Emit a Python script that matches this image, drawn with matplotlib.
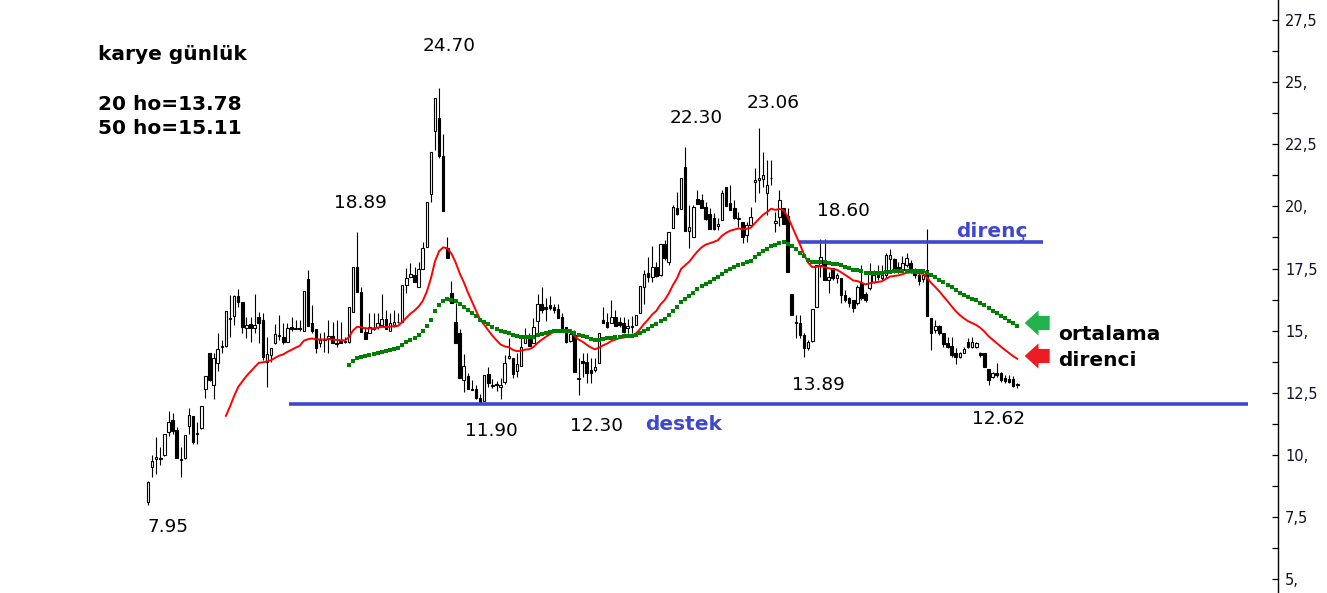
import numpy as np
import matplotlib
matplotlib.use("Agg")
import matplotlib.pyplot as plt
from matplotlib.patches import FancyArrowPatch

# ---------------- data ----------------
opens = [8.10, 9.50, 9.82, 9.85, 9.98, 10.91, 11.39, 10.99, 9.82, 9.88,
         11.15, 11.55, 10.84, 11.07, 12.64, 14.09, 12.80, 13.68, 14.35, 14.37,
         15.48, 15.58, 16.39, 16.14, 15.09, 15.25, 15.09, 15.56, 15.43, 13.75,
         14.02, 14.49, 14.78, 14.75, 14.55, 15.16, 15.08, 15.10, 15.00, 17.07,
         15.29, 15.05, 14.49, 14.61, 14.69, 14.79, 14.48, 14.62, 14.54, 14.55,
         15.76, 17.55, 16.55, 14.94, 14.89, 15.08, 15.15, 15.23, 15.48, 14.98,
         15.23, 15.33, 15.36, 16.84, 17.17, 17.24, 16.77, 17.47, 18.38, 20.49,
         23.05, 23.55, 22.03, 18.34, 16.50, 15.36, 14.89, 13.01, 13.17, 12.63,
         12.64, 12.27, 12.18, 13.25, 12.76, 12.85, 12.74, 12.92, 13.91, 13.88,
         13.39, 13.57, 14.49, 14.69, 14.49, 15.40, 16.07, 15.96, 16.03, 15.94,
         15.86, 15.54, 15.13, 14.59, 14.82, 13.04, 13.78, 13.75, 13.41, 13.41,
         13.68, 15.43, 15.36, 15.29, 15.54, 15.36, 15.32, 15.09, 15.15, 15.23,
         15.70, 16.77, 17.31, 17.17, 17.57, 17.24, 18.49, 17.77, 19.12, 19.92,
         19.88, 21.57, 19.02, 18.76, 20.29, 20.26, 19.99, 19.69, 19.52, 19.21,
         19.45, 20.79, 20.13, 19.92, 19.51, 19.38, 18.85, 19.25, 20.97, 21.06,
         21.10, 20.55, 21.13, 19.35, 19.57, 19.92, 19.61, 16.47, 15.31, 15.32,
         14.82, 14.29, 14.59, 15.94, 17.64, 17.84, 17.04, 17.51, 17.10, 17.10,
         16.43, 16.30, 16.23, 16.10, 16.90, 16.47, 16.70, 16.97, 17.31, 17.13,
         17.24, 17.87, 17.87, 17.57, 17.44, 17.64, 17.71, 17.44, 17.24, 17.06,
         17.44, 15.50, 15.02, 15.19, 14.89, 14.49, 14.38, 14.09, 13.93, 14.11,
         14.55, 14.35, 14.35, 14.09, 14.09, 13.44, 13.15, 13.28, 13.31, 13.08,
         13.04, 13.04, 12.83]
highs = [8.95, 9.99, 10.70, 10.33, 10.85, 11.76, 11.69, 11.13, 10.30, 10.80,
         11.88, 11.56, 11.33, 11.97, 13.17, 14.10, 14.09, 14.92, 14.62, 15.80,
         16.43, 16.43, 16.66, 16.16, 15.56, 15.56, 16.47, 15.76, 15.72, 14.75,
         14.30, 15.27, 15.63, 15.29, 15.29, 15.56, 15.43, 15.43, 16.58, 17.44,
         16.02, 15.05, 14.89, 14.93, 15.43, 15.33, 15.43, 15.33, 14.75, 15.96,
         17.57, 18.96, 16.77, 15.16, 15.70, 15.70, 15.70, 16.46, 15.83, 15.70,
         15.83, 15.70, 16.82, 17.53, 17.71, 17.57, 17.77, 18.55, 20.17, 22.19,
         24.35, 24.75, 22.92, 18.78, 17.00, 16.10, 15.05, 14.06, 13.31, 13.00,
         12.81, 12.45, 13.21, 13.52, 13.07, 12.99, 13.08, 14.02, 14.69, 13.88,
         14.09, 14.75, 15.09, 14.89, 15.50, 16.47, 16.74, 16.30, 16.39, 16.07,
         16.07, 15.70, 15.13, 15.02, 15.02, 13.88, 14.09, 14.09, 13.88, 13.88,
         14.92, 15.96, 15.70, 16.23, 15.83, 15.56, 15.56, 15.45, 15.59, 15.63,
         16.80, 17.44, 17.98, 18.41, 17.77, 18.49, 18.65, 18.98, 20.06, 20.59,
         21.13, 22.38, 20.06, 20.06, 20.66, 20.50, 20.19, 19.92, 19.72, 19.52,
         20.66, 20.79, 20.86, 20.26, 19.79, 19.38, 19.38, 19.96, 21.53, 23.14,
         22.20, 21.87, 21.87, 19.79, 20.66, 19.92, 19.94, 16.47, 15.63, 15.63,
         14.89, 14.62, 15.86, 17.64, 18.67, 18.67, 17.37, 17.51, 17.31, 17.10,
         16.63, 16.36, 16.23, 16.84, 17.64, 16.57, 17.71, 17.46, 17.64, 17.64,
         18.11, 18.27, 17.91, 17.77, 18.00, 18.11, 17.84, 17.51, 17.37, 17.44,
         19.08, 15.50, 15.43, 15.23, 14.89, 14.75, 14.75, 14.29, 14.15, 14.35,
         14.69, 14.75, 14.55, 14.15, 14.09, 13.44, 13.35, 13.68, 13.35, 13.21,
         13.21, 13.17, 12.91]
lows = [8.00, 9.12, 9.23, 9.59, 9.95, 10.77, 10.84, 9.88, 9.12, 9.85,
        10.84, 10.42, 10.42, 11.05, 12.27, 12.98, 12.23, 13.39, 14.09, 14.35,
        14.75, 15.23, 15.96, 14.89, 14.69, 14.55, 14.89, 14.49, 13.82, 12.74,
        13.75, 14.46, 14.62, 14.45, 14.53, 15.00, 15.06, 15.00, 15.00, 15.20,
        14.89, 14.11, 14.35, 14.15, 14.11, 14.49, 14.35, 14.49, 14.49, 14.49,
        15.76, 16.57, 14.94, 14.67, 14.89, 15.02, 15.05, 15.23, 15.05, 14.98,
        15.16, 15.30, 15.36, 16.50, 17.17, 16.97, 16.77, 17.47, 18.38, 20.19,
        22.27, 21.94, 19.83, 17.91, 16.10, 14.51, 13.08, 12.54, 12.64, 12.61,
        12.23, 12.07, 12.18, 12.74, 12.68, 12.58, 12.23, 12.85, 13.84, 13.10,
        13.12, 13.57, 14.49, 14.39, 14.49, 14.89, 15.70, 15.40, 15.83, 15.70,
        15.50, 15.09, 14.49, 14.55, 13.35, 12.41, 13.12, 12.88, 12.88, 13.35,
        13.68, 15.32, 15.09, 15.29, 15.19, 15.16, 14.89, 14.89, 14.89, 15.23,
        15.70, 16.07, 16.97, 16.97, 17.15, 17.20, 17.84, 17.64, 19.12, 19.65,
        19.88, 19.02, 18.31, 18.76, 20.08, 19.92, 19.45, 19.08, 19.05, 19.05,
        19.45, 20.02, 19.86, 19.48, 19.18, 18.51, 18.58, 19.25, 20.19, 20.55,
        20.79, 19.65, 20.86, 18.98, 19.21, 19.29, 17.36, 15.63, 14.70, 14.70,
        13.95, 14.22, 14.55, 15.94, 17.17, 17.04, 16.50, 17.04, 16.90, 16.10,
        16.16, 15.96, 15.76, 16.03, 16.23, 16.16, 16.65, 16.90, 17.04, 17.04,
        17.10, 17.44, 17.31, 17.31, 17.37, 17.57, 17.31, 17.10, 16.84, 16.97,
        15.60, 14.22, 14.89, 14.82, 14.35, 14.29, 13.95, 13.66, 13.88, 14.09,
        14.29, 14.29, 14.29, 13.95, 13.55, 12.81, 13.08, 13.15, 12.94, 12.88,
        12.88, 12.74, 12.70]
closes = [8.90, 9.76, 9.90, 9.87, 10.83, 11.33, 10.97, 9.88, 9.80, 10.79,
          11.59, 10.53, 10.86, 11.95, 13.16, 13.00, 13.90, 14.27, 14.38, 15.78,
          15.52, 16.39, 16.14, 15.13, 15.21, 15.09, 15.21, 15.32, 13.95, 14.06,
          14.29, 14.85, 14.80, 14.55, 15.09, 15.05, 15.10, 15.08, 16.58, 15.20,
          15.00, 14.29, 14.61, 14.63, 14.79, 14.49, 14.50, 14.49, 14.56, 15.96,
          17.57, 16.57, 14.94, 14.67, 15.13, 15.10, 15.32, 15.48, 15.05, 15.32,
          15.36, 15.35, 16.82, 17.13, 17.27, 16.97, 17.48, 18.34, 20.17, 22.19,
          24.35, 22.03, 19.83, 17.91, 16.10, 14.51, 13.08, 13.57, 12.64, 12.65,
          12.27, 12.10, 13.21, 12.88, 12.78, 12.83, 12.81, 13.68, 13.98, 13.25,
          13.66, 14.35, 14.69, 14.39, 15.16, 16.07, 15.83, 15.86, 15.90, 15.83,
          15.50, 15.09, 14.55, 14.86, 13.35, 13.11, 13.71, 13.28, 13.30, 13.55,
          14.92, 15.32, 15.16, 15.56, 15.19, 15.23, 14.96, 15.18, 15.17, 15.63,
          16.80, 17.27, 17.15, 17.55, 17.20, 18.49, 17.91, 18.96, 19.99, 19.69,
          21.13, 19.02, 19.18, 19.99, 20.08, 19.92, 19.49, 19.08, 19.08, 19.29,
          20.54, 20.02, 19.86, 19.52, 19.53, 18.78, 19.25, 19.56, 21.06, 21.13,
          21.26, 20.86, 21.15, 19.40, 20.26, 19.29, 17.36, 15.63, 15.33, 14.82,
          14.29, 14.55, 15.86, 17.64, 17.97, 17.04, 17.17, 17.10, 17.24, 16.43,
          16.23, 16.10, 15.90, 16.77, 16.30, 16.23, 17.30, 17.24, 17.17, 17.24,
          18.04, 18.04, 17.44, 17.44, 17.71, 17.91, 17.44, 17.24, 17.01, 17.24,
          15.60, 14.92, 15.19, 14.92, 14.46, 14.35, 14.02, 13.93, 14.11, 14.25,
          14.33, 14.55, 14.49, 14.02, 13.55, 13.01, 13.28, 13.21, 13.01, 12.98,
          12.94, 12.77, 12.85]

support_level = 12.05
resistance_level = 18.55
ytick_values = [5, 7.5, 10, 12.5, 15, 17.5, 20, 22.5, 25, 27.5]
ytick_labels = ["5,", "7,5", "10,", "12,5", "15,", "17,5", "20,", "22,5", "25,", "27,5"]
price_notes = ["7.95", "18.89", "24.70", "22.30", "23.06", "18.60",
               "13.89", "11.90", "12.30", "12.62"]
title_lines = ["karye günlük", "20 ho=13.78", "50 ho=15.11"]


def ema(vals, n):
    """Exponential moving average seeded with the simple average of the first n closes."""
    out = np.full(len(vals), np.nan)
    out[n - 1] = np.mean(vals[:n])
    a = 2.0 / (n + 1)
    for i in range(n, len(vals)):
        out[i] = out[i - 1] + a * (vals[i] - out[i - 1])
    return out


# ---------------- figure ----------------
W, H = 1327, 593
fig = plt.figure(figsize=(W / 100, H / 100), dpi=100)
ax = fig.add_axes([0, 0, 1278 / W, 1])

o = np.array(opens); h = np.array(highs); l = np.array(lows); c = np.array(closes)
idx = np.arange(len(c))
up = c >= o
lo = np.minimum(o, c)
bh = np.maximum(np.abs(c - o), 0.035)

ax.vlines(idx, l, h, color="black", lw=0.8, zorder=2)
ax.bar(idx[up], bh[up], bottom=lo[up], width=0.62, facecolor="white",
       edgecolor="black", linewidth=0.8, zorder=3)
ax.bar(idx[~up], bh[~up], bottom=lo[~up], width=0.62, facecolor="black",
       edgecolor="black", linewidth=0.8, zorder=3)

# moving averages (exponential, 20 and 50)
ema20 = ema(c, 20)
ema50 = ema(c, 50)
ax.plot(idx, ema20, color="#ff0000", lw=1.4, zorder=5)
ax.plot(idx, ema50, ls="none", marker="s", ms=2.3, mew=0,
        color="#008000", zorder=5)

# support / resistance
blue = "#3f48cc"
ax.hlines(support_level, 34.4, 268.3, color=blue, lw=2.6, zorder=4)
ax.hlines(resistance_level, 158.8, 218.3, color=blue, lw=2.6, zorder=4)

# axis styling
for sp in ["left", "top", "bottom"]:
    ax.spines[sp].set_visible(False)
ax.spines["right"].set_linewidth(1.0)
ax.set_xticks([])
ax.yaxis.tick_right()
ax.set_yticks(ytick_values)
ax.set_yticklabels(ytick_labels)
ax.set_yticks([v + 1.25 for v in ytick_values[:-1]] + [3.75, 28.75], minor=True)
ax.tick_params(axis="y", which="both", direction="in", length=4, width=0.9,
               labelsize=10.5, pad=5, colors="black")
ax.tick_params(axis="y", which="major", labelcolor="#10102a")

# limits set last so tick setting cannot widen them
ax.set_xlim(-36.1, 275.6)
ax.set_ylim(4.44, 28.31)


def fp(x, y):
    return x / W, 1 - y / H


note_pos = [(168, 527), (360, 203), (449, 46), (696, 118), (773, 103),
            (843, 211), (818, 385), (491, 431), (597, 426), (999, 419)]
for txt, (px, py) in zip(price_notes, note_pos):
    fig.text(*fp(px, py), txt, fontsize=13.3, ha="center", va="center",
             color="black")

for txt, py in zip(title_lines, [55, 104, 129]):
    fig.text(*fp(98, py), txt, fontsize=14.5, fontweight="bold",
             ha="left", va="center", color="black")

fig.text(*fp(992, 231), "direnç", fontsize=14.5, fontweight="bold",
         ha="center", va="center", color=blue)
fig.text(*fp(684, 424), "destek", fontsize=14.5, fontweight="bold",
         ha="center", va="center", color=blue)
fig.text(*fp(1058, 335), "ortalama", fontsize=14.5, fontweight="bold",
         ha="left", va="center", color="black")
fig.text(*fp(1058, 360), "direnci", fontsize=14.5, fontweight="bold",
         ha="left", va="center", color="black")

# arrows
for yc, col in [(323, "#22b14c"), (356, "#ed1c24")]:
    fig.add_artist(FancyArrowPatch(
        (1053, H - yc), (1021, H - yc), transform=None,
        arrowstyle="simple,head_length=0.55,head_width=1.0,tail_width=0.55",
        mutation_scale=20, facecolor=col, edgecolor="white", lw=0.8))

fig.savefig("out.png", dpi=100)
